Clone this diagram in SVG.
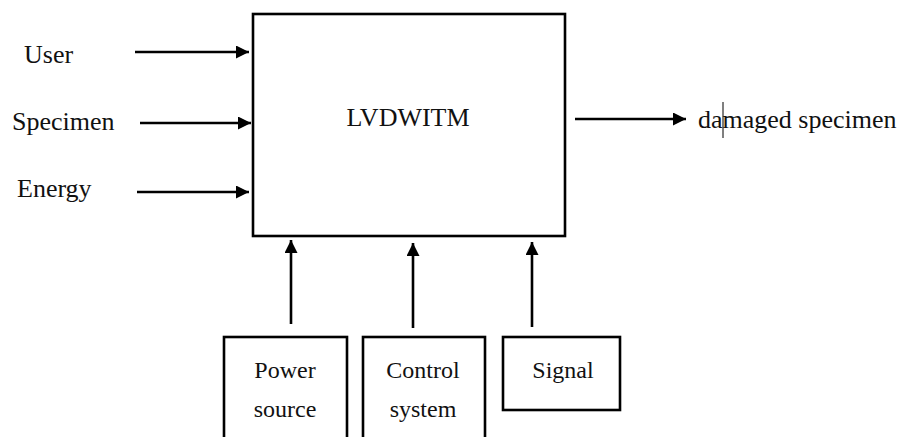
<svg xmlns="http://www.w3.org/2000/svg" width="909" height="437" viewBox="0 0 909 437">
<defs>
<style>
text{font-family:'Liberation Serif','Times New Roman','DejaVu Serif',serif;fill:#111;}
.lbl{font-size:26px;}
.sm{font-size:24px;}
.box{fill:#fff;stroke:#000;stroke-width:2.6;}
.cn{stroke:#000;stroke-width:2.6;fill:none;}
</style>
<marker id="ah" viewBox="0 0 13 13" refX="13" refY="6.5" markerWidth="13" markerHeight="13" markerUnits="userSpaceOnUse" orient="auto">
<path d="M0,0 L13,6.5 L0,13 z" fill="#000"/>
</marker>
</defs>
<rect width="909" height="437" fill="#fff"/>
<g id="main">
<rect class="box" x="253" y="14" width="312" height="222" stroke-width="3"/>
<text class="lbl" x="408" y="126" text-anchor="middle" font-family="Liberation Serif, serif">LVDWITM</text>
</g>
<g id="user"><text class="lbl" x="24" y="63">User</text></g>
<g id="specimen"><text class="lbl" x="12" y="130">Specimen</text></g>
<g id="energy"><text class="lbl" x="17" y="197">Energy</text></g>
<g id="damaged">
<text class="lbl" x="698" y="128">damaged specimen</text>
<line x1="723" y1="102" x2="723" y2="138" stroke="#000" stroke-width="1"/>
</g>
<g id="power">
<rect class="box" x="224" y="337" width="123" height="110"/>
<text class="sm" x="285" y="378" text-anchor="middle">Power</text>
<text class="sm" x="285" y="417" text-anchor="middle">source</text>
</g>
<g id="control">
<rect class="box" x="363" y="337" width="122" height="110"/>
<text class="sm" x="423" y="378" text-anchor="middle">Control</text>
<text class="sm" x="423" y="417" text-anchor="middle">system</text>
</g>
<g id="signal">
<rect class="box" x="503" y="337" width="117" height="73"/>
<text class="sm" x="563" y="378" text-anchor="middle">Signal</text>
</g>
<g id="connectors">
<line class="cn" x1="135" y1="52" x2="249" y2="52" marker-end="url(#ah)"/>
<line class="cn" x1="140" y1="123" x2="251" y2="123" marker-end="url(#ah)"/>
<line class="cn" x1="137" y1="192" x2="249" y2="192" marker-end="url(#ah)"/>
<line class="cn" x1="575" y1="119" x2="686" y2="119" marker-end="url(#ah)"/>
<line class="cn" x1="291" y1="324" x2="291" y2="240" marker-end="url(#ah)"/>
<line class="cn" x1="413" y1="328" x2="413" y2="243" marker-end="url(#ah)"/>
<line class="cn" x1="532" y1="327" x2="532" y2="242" marker-end="url(#ah)"/>
</g>
</svg>
